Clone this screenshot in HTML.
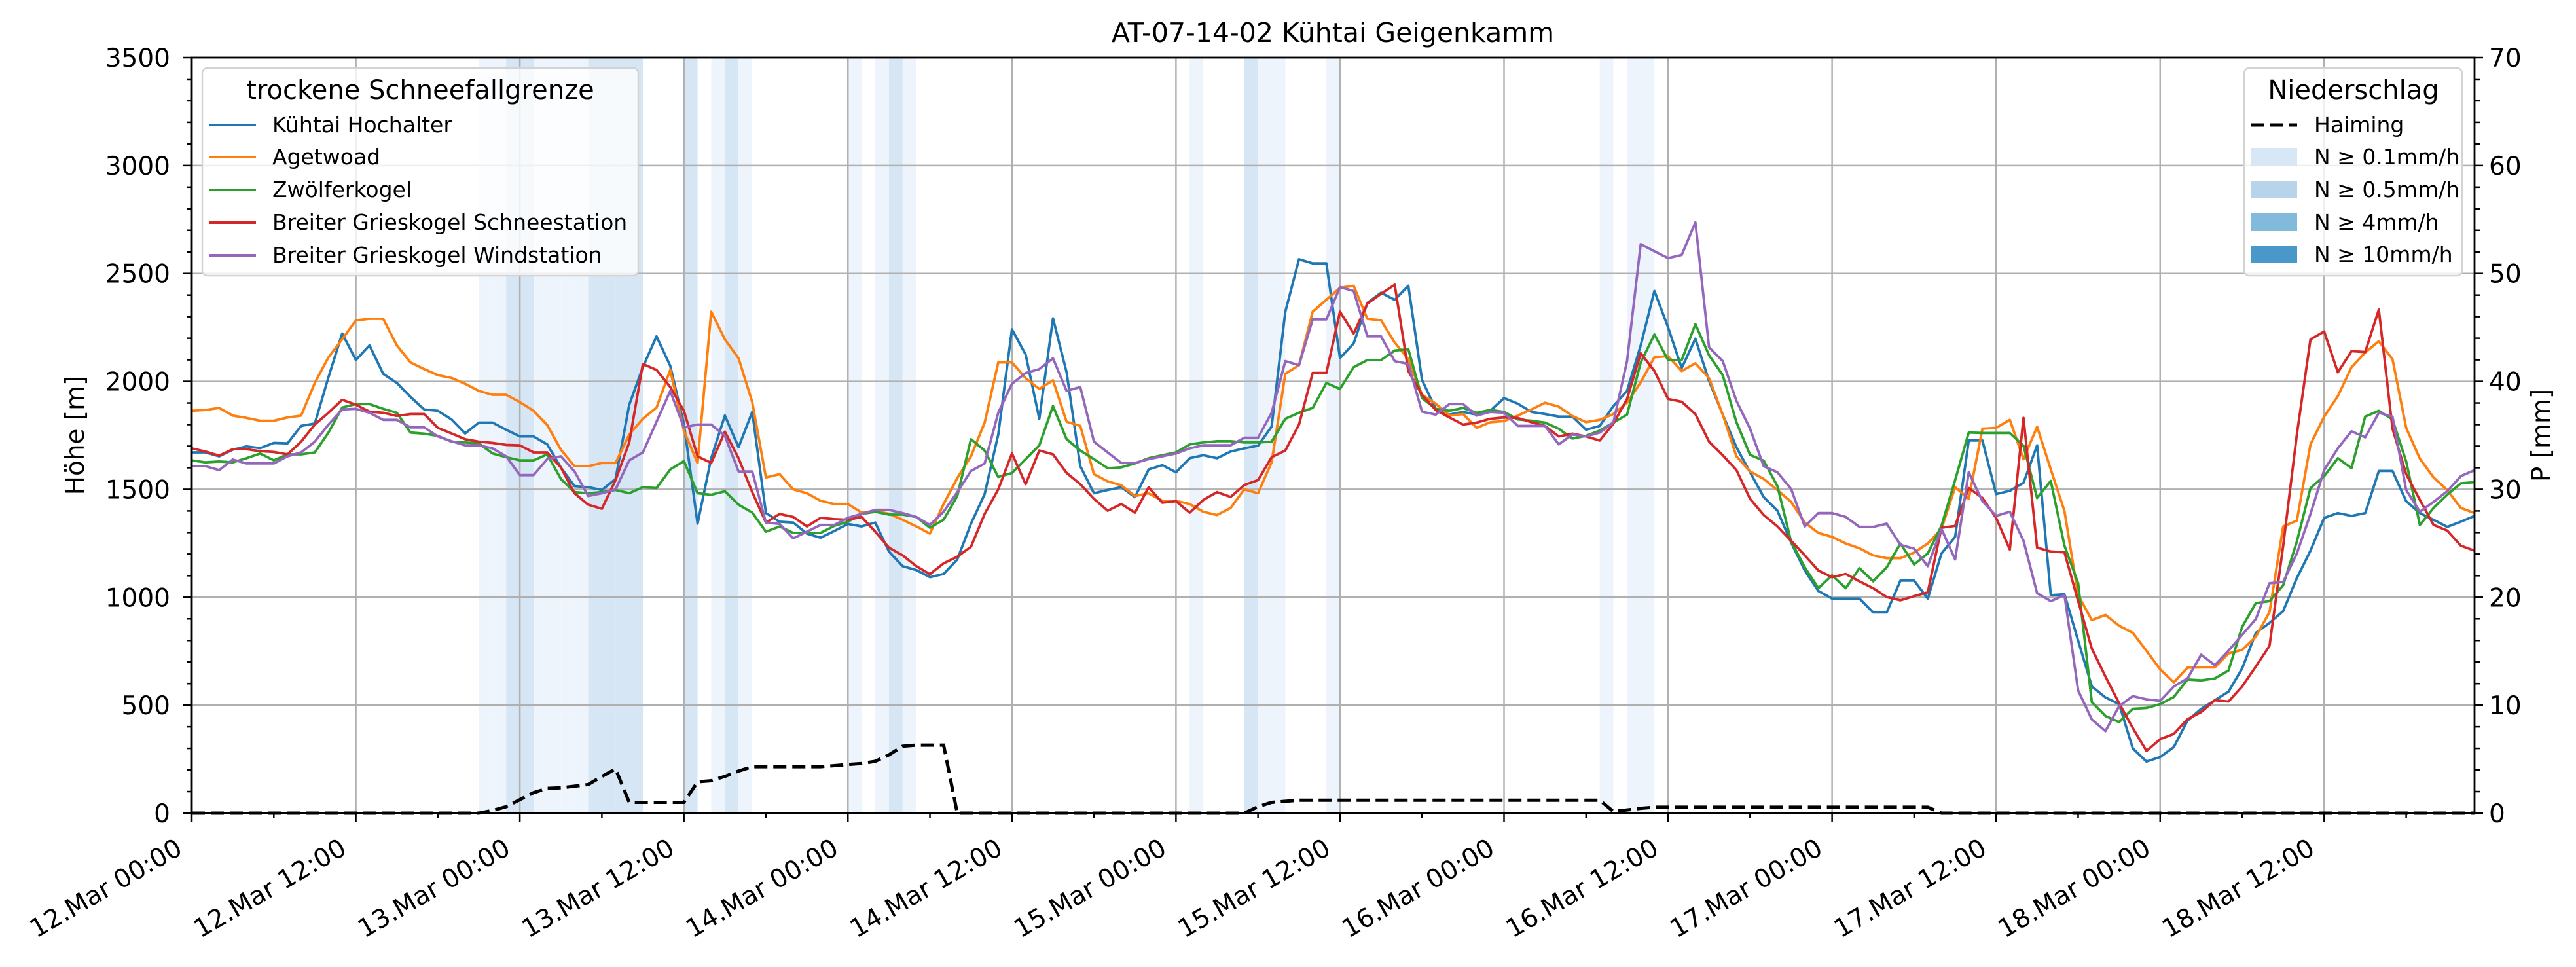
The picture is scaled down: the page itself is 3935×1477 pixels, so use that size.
<!DOCTYPE html>
<html><head><meta charset="utf-8"><style>
html,body{margin:0;padding:0;background:#fff;}
svg{display:block;font-family:"DejaVu Sans","Liberation Sans",sans-serif;}
</style></head><body>
<svg id="chart" width="3935" height="1477" viewBox="0 0 3935 1477" xmlns="http://www.w3.org/2000/svg">
<rect width="3935" height="1477" fill="#fff"/>
<g id="bands"></g>
<g id="grid"></g>
<g id="series"></g>
<g id="axes"></g>
<text x="2036" y="64" font-size="41" text-anchor="middle">AT-07-14-02 Kühtai Geigenkamm</text>
<text transform="translate(128,665) rotate(-90)" font-size="39" text-anchor="middle">Höhe [m]</text>
<text transform="translate(3895,665) rotate(-90)" font-size="39" text-anchor="middle">P [mm]</text>
<g>
<rect x="309" y="104" width="666" height="317" rx="8" fill="#fff" fill-opacity="0.8" stroke="#d3d3d3" stroke-width="2.5"/>
<text x="642" y="151" font-size="40" text-anchor="middle">trockene Schneefallgrenze</text>
<g font-size="33">
<line x1="320" y1="191" x2="391" y2="191" stroke="#1f77b4" stroke-width="4"/><text x="416" y="202">Kühtai Hochalter</text>
<line x1="320" y1="240" x2="391" y2="240" stroke="#ff7f0e" stroke-width="4"/><text x="416" y="251">Agetwoad</text>
<line x1="320" y1="290" x2="391" y2="290" stroke="#2ca02c" stroke-width="4"/><text x="416" y="301">Zwölferkogel</text>
<line x1="320" y1="340" x2="391" y2="340" stroke="#d62728" stroke-width="4"/><text x="416" y="351">Breiter Grieskogel Schneestation</text>
<line x1="320" y1="390" x2="391" y2="390" stroke="#9467bd" stroke-width="4"/><text x="416" y="401">Breiter Grieskogel Windstation</text>
</g></g>
<g>
<rect x="3428" y="104" width="333" height="317" rx="8" fill="#fff" fill-opacity="0.8" stroke="#d3d3d3" stroke-width="2.5"/>
<text x="3595" y="151" font-size="40" text-anchor="middle">Niederschlag</text>
<g font-size="33">
<line x1="3438" y1="191" x2="3509" y2="191" stroke="#000" stroke-width="5" stroke-dasharray="20 9"/><text x="3535" y="202">Haiming</text>
<rect x="3438" y="226" width="71" height="27" fill="#d8e7f5"/><text x="3535" y="251">N ≥ 0.1mm/h</text>
<rect x="3438" y="276" width="71" height="27" fill="#b7d4ea"/><text x="3535" y="301">N ≥ 0.5mm/h</text>
<rect x="3438" y="326" width="71" height="27" fill="#82badb"/><text x="3535" y="351">N ≥ 4mm/h</text>
<rect x="3438" y="375" width="71" height="27" fill="#4a98c9"/><text x="3535" y="400">N ≥ 10mm/h</text>
</g></g>
</svg>
<script>
const hochalter = [1671,1671,1653,1684,1699,1691,1715,1713,1794,1805,2020,2222,2099,2167,2035,1993,1928,1870,1864,1824,1759,1809,1809,1776,1745,1745,1708,1601,1515,1510,1497,1548,1892,2066,2209,2072,1803,1341,1644,1842,1695,1859,1390,1350,
1346,1295,1276,1307,1340,1328,1346,1212,1144,1126,1093,1108,1175,1341,1478,1754,2241,2125,1827,2292,2042,1607,1482,1497,1510,1464,1592,1612,1579,1644,1658,1644,1675,1690,1702,1791,2323,2566,2547,2547,2108,2176,
2364,2411,2378,2443,2007,1873,1846,1859,1846,1864,1923,1897,1859,1849,1837,1837,1776,1794,1886,1956,2167,2419,2250,2062,2198,2002,1846,1695,1579,1464,1401,1254,1124,1029,994,994,994,930,930,1077,1077,994,
1203,1280,1726,1726,1478,1493,1530,1704,1010,1014,799,587,536,505,300,239,260,306,428,483,523,563,670,835,881,936,1089,1216,1368,1390,1377,1390,1585,1585,1445,1390,1359,1326,1350,1377];
const agetwoad = [1864,1868,1877,1842,1831,1818,1818,1833,1842,1993,2112,2195,2283,2290,2290,2167,2088,2057,2029,2016,1989,1956,1938,1938,1904,1864,1798,1684,1607,1607,1622,1622,1754,1827,1879,2053,1772,1622,2323,2195,2107,1904,1555,1570,
1500,1482,1447,1432,1432,1392,1400,1387,1359,1328,1295,1432,1552,1653,1809,2088,2088,2015,1965,2005,1813,1794,1570,1537,1519,1469,1482,1447,1447,1432,1396,1381,1414,1500,1482,1625,2035,2075,2323,2378,2434,2443,
2290,2283,2180,2103,1938,1897,1842,1849,1785,1811,1816,1842,1870,1901,1883,1840,1811,1822,1849,1901,1996,2112,2117,2048,2084,2015,1846,1653,1583,1548,1497,1442,1346,1298,1280,1249,1227,1194,1181,1181,1207,1249,
1317,1510,1456,1781,1785,1822,1640,1790,1592,1399,1010,894,918,868,835,752,666,606,674,675,675,740,756,817,931,1328,1355,1708,1837,1932,2066,2134,2186,2103,1785,1642,1555,1497,1414,1390];
const zwoelferkogel = [1634,1625,1629,1625,1644,1666,1634,1662,1662,1671,1763,1879,1895,1895,1873,1855,1763,1758,1748,1721,1717,1713,1666,1649,1634,1634,1662,1548,1487,1482,1487,1497,1482,1510,1506,1592,1631,1482,1475,1491,1429,1392,1304,1328,
1298,1298,1298,1331,1350,1386,1396,1383,1383,1372,1322,1359,1469,1732,1680,1557,1576,1640,1704,1886,1732,1680,1640,1598,1602,1620,1644,1658,1671,1708,1717,1723,1723,1717,1717,1721,1827,1855,1877,1993,1965,2066,
2099,2099,2143,2149,1923,1873,1864,1877,1855,1868,1859,1824,1818,1809,1781,1735,1748,1772,1809,1846,2088,2217,2099,2099,2265,2121,2029,1811,1660,1633,1515,1258,1139,1042,1102,1042,1135,1074,1139,1249,1152,1203,
1331,1543,1763,1761,1761,1761,1702,1460,1539,1239,1065,514,450,422,483,487,505,538,619,615,624,661,863,973,982,1056,1258,1506,1561,1644,1598,1837,1864,1824,1629,1335,1414,1475,1528,1533];
const schneestation = [1690,1675,1656,1686,1686,1677,1673,1662,1721,1800,1855,1915,1892,1860,1855,1840,1849,1849,1785,1759,1732,1721,1715,1706,1704,1671,1671,1601,1482,1429,1410,1543,1717,2081,2053,1974,1864,1653,1622,1767,1644,1487,1346,1386,
1372,1328,1368,1362,1359,1372,1304,1230,1194,1144,1107,1157,1188,1234,1386,1500,1666,1524,1680,1662,1576,1524,1456,1401,1432,1392,1510,1438,1445,1392,1451,1487,1465,1520,1543,1649,1680,1800,2039,2039,2323,2222,
2360,2406,2448,2048,1938,1868,1833,1800,1809,1827,1833,1831,1811,1794,1745,1758,1745,1726,1804,1919,2130,2048,1919,1906,1849,1721,1658,1589,1456,1381,1328,1262,1194,1124,1093,1108,1074,1042,1001,986,1005,1023,
1322,1331,1506,1460,1368,1221,1831,1230,1212,1208,982,762,633,509,394,288,343,367,435,468,523,517,587,679,775,1239,1754,2195,2231,2042,2140,2136,2333,1781,1570,1451,1335,1309,1239,1216];
const windstation = [1607,1607,1589,1638,1620,1620,1620,1653,1671,1721,1800,1870,1873,1855,1822,1822,1787,1787,1745,1723,1704,1704,1690,1653,1566,1566,1640,1653,1583,1469,1482,1500,1634,1671,1813,1956,1787,1800,1800,1748,1583,1583,1346,1340,
1273,1304,1335,1335,1368,1386,1405,1405,1390,1372,1335,1396,1487,1585,1620,1855,1989,2039,2057,2107,1956,1974,1721,1671,1622,1622,1640,1653,1666,1690,1704,1704,1704,1739,1739,1855,2094,2075,2287,2287,2437,2419,
2209,2209,2094,2081,1860,1846,1895,1895,1842,1859,1855,1794,1794,1794,1708,1754,1745,1763,1809,2094,2636,2603,2571,2586,2737,2158,2094,1910,1781,1607,1579,1502,1328,1390,1390,1372,1326,1326,1341,1243,1225,1144,
1317,1175,1579,1445,1377,1396,1262,1019,982,1010,568,434,380,496,542,527,520,587,624,734,685,753,826,899,1065,1071,1203,1386,1589,1690,1769,1741,1855,1837,1497,1396,1442,1491,1561,1589];
const haiming = [0,0,0,0,0,0,0,0,0,0,0,0,0,0,0,0,0,0,0,0,0,0,
0.25,0.6,1.25,1.9,2.3,2.35,2.5,2.65,3.4,4.1,1.0,1.0,1.0,1.0,1.0,2.9,3.0,3.4,3.9,4.3,4.3,4.3,4.3,4.3,4.3,4.4,4.5,4.6,4.8,5.4,6.2,6.3,6.3,6.3,
0,0,0,0,0,0,0,0,0,0,0,0,0,0,0,0,0,0,0,0,0,0,
0.6,1.0,1.1,
1.2,1.2,1.2,1.2,1.2,1.2,1.2,1.2,1.2,1.2,1.2,1.2,1.2,1.2,1.2,1.2,1.2,1.2,1.2,1.2,1.2,1.2,1.2,
0.15,0.3,0.45,
0.55,0.55,0.55,0.55,0.55,0.55,0.55,0.55,0.55,0.55,0.55,0.55,0.55,0.55,0.55,0.55,0.55,0.55,0.55,0.55,0.55,
0,0,0,0,0,0,0,0,0,0,0,0,0,0,0,0,0,0,0,0,0,0,0,0,0,0,0,0,0,0,0,0,0,0,0,0,0,0,0,0];
const bandHours = [21,22,23,24,25,26,27,28,29,30,31,32,36,38,39,40,48,50,51,52,73,77,78,79,83,103,105,106];
const bandLevels = [1,1,2,2,1,1,1,1,2,2,2,2,2,1,2,1,1,1,2,1,1,2,1,1,1,1,1,1];
const xTickLabels = ["12.Mar 00:00","12.Mar 12:00","13.Mar 00:00","13.Mar 12:00","14.Mar 00:00","14.Mar 12:00","15.Mar 00:00","15.Mar 12:00","16.Mar 00:00","16.Mar 12:00","17.Mar 00:00","17.Mar 12:00","18.Mar 00:00","18.Mar 12:00"];
const yTicks = [0,500,1000,1500,2000,2500,3000,3500];
const y2Ticks = [0,10,20,30,40,50,60,70];

const NS="http://www.w3.org/2000/svg";
const L=293,R=3780,T=88,B=1242,XMAX=167;
const xS=h=>L+h*(R-L)/XMAX;
const yS=m=>B-m*(B-T)/3500;
const pS=p=>B-p*(B-T)/70;
function mk(tag,attrs,parent){const e=document.createElementNS(NS,tag);for(const k in attrs)e.setAttribute(k,attrs[k]);parent.appendChild(e);return e;}
const gB=document.getElementById('bands'),gG=document.getElementById('grid'),gS=document.getElementById('series'),gA=document.getElementById('axes');

bandHours.forEach((h,i)=>{
  const r=mk('rect',{x:xS(h),y:T,width:xS(h+1)-xS(h),height:B-T,fill:bandLevels[i]===2?'#d6e6f4':'#eef4fb'},gB);
  
  
});
xTickLabels.forEach((t,i)=>{
  const x=xS(i*12);
  const g=mk('line',{x1:x,y1:T,x2:x,y2:B,stroke:'#b0b0b0','stroke-width':2.5},gG);
  
  
});
yTicks.forEach(v=>{
  const y=yS(v);
  const g=mk('line',{x1:L,y1:y,x2:R,y2:y,stroke:'#b0b0b0','stroke-width':2.5},gG);
  
  
});
const seriesList=[[hochalter,'#1f77b4','line-kuehtai-hochalter'],[agetwoad,'#ff7f0e','line-agetwoad'],[zwoelferkogel,'#2ca02c','line-zwoelferkogel'],[schneestation,'#d62728','line-schneestation'],[windstation,'#9467bd','line-windstation']];
seriesList.forEach(s=>{
  const d=s[0].map((v,i)=>(i?'L':'M')+xS(i).toFixed(1)+','+yS(v).toFixed(1)).join('');
  const p=mk('path',{d:d,fill:'none',stroke:s[1],'stroke-width':3.8,'stroke-linejoin':'round'},gS);
  
  
});
{
  const d=haiming.map((v,i)=>(i?'L':'M')+xS(i).toFixed(1)+','+pS(v).toFixed(1)).join('');
  const p=mk('path',{d:d,fill:'none',stroke:'#000','stroke-width':5,'stroke-dasharray':'20 9'},gS);
  
  
}
const fr=mk('rect',{x:L,y:T,width:R-L,height:B-T,fill:'none',stroke:'#000','stroke-width':2.8},gA);


for(let h=0;h<=XMAX;h+=6){
  const major=h%12===0;
  mk('line',{x1:xS(h),y1:B,x2:xS(h),y2:B+(major?13:8),stroke:'#000','stroke-width':2.5},gA);
}
xTickLabels.forEach((t,i)=>{
  const x=xS(i*12);
  const tx=mk('text',{transform:`translate(${x-12},${B+61}) rotate(-30)`,'text-anchor':'end','font-size':39},gA);
  tx.textContent=t;
  
  
});
for(let m=0;m<=3500;m+=100){
  const major=m%500===0;
  mk('line',{x1:L,y1:yS(m),x2:L-(major?13:8),y2:yS(m),stroke:'#000','stroke-width':2.5},gA);
}
yTicks.forEach(v=>{
  const tx=mk('text',{x:L-33,y:yS(v)+14,'text-anchor':'end','font-size':39},gA);
  tx.textContent=v;
  
  
});
for(let p=0;p<=70;p+=2){
  const major=p%10===0;
  mk('line',{x1:R,y1:pS(p),x2:R+(major?13:8),y2:pS(p),stroke:'#000','stroke-width':2.5},gA);
}
y2Ticks.forEach(v=>{
  const tx=mk('text',{x:R+22,y:pS(v)+14,'text-anchor':'start','font-size':39},gA);
  tx.textContent=v;
  
  
});
</script>
</body></html>
